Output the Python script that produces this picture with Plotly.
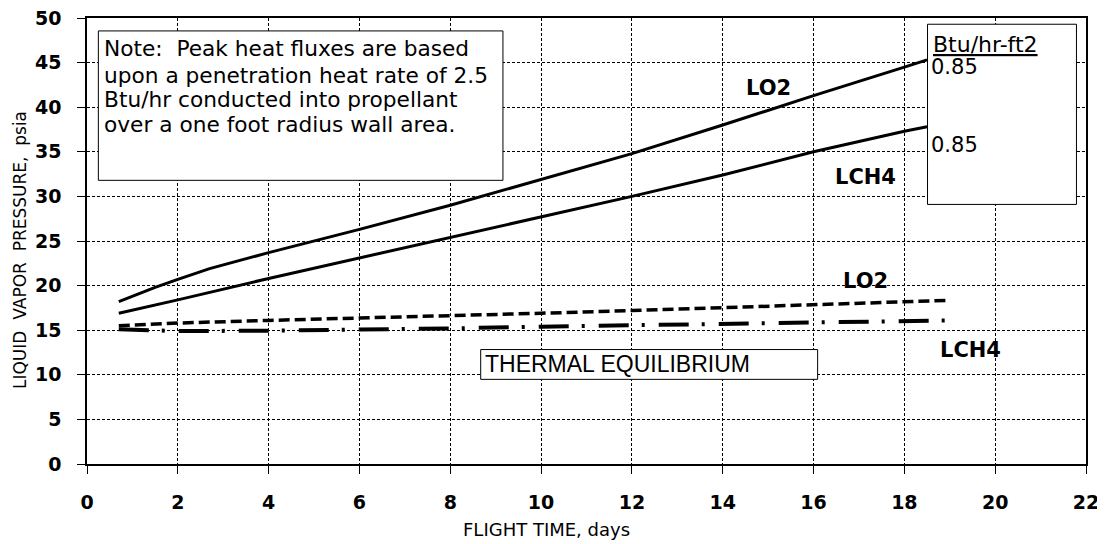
import plotly.graph_objects as go

# flight time (days) and liquid vapor pressure (psia)
lo2_heat_x = [0.7, 1.5, 2.0, 2.7, 4, 6, 8, 10, 12, 14, 16, 18, 18.5]
lo2_heat_y = [18.2, 19.8, 20.7, 21.9, 23.7, 26.3, 29.0, 31.9, 34.8, 38.0, 41.3, 44.5, 45.3]

lch4_heat_x = [0.7, 2, 4, 6, 8, 10, 12, 14, 16, 18, 18.5]
lch4_heat_y = [16.9, 18.4, 20.8, 23.1, 25.4, 27.7, 30.0, 32.4, 35.0, 37.3, 37.8]

lo2_eq_x = [0.7, 2, 4, 6, 8, 10, 12, 14, 16, 18, 19]
lo2_eq_y = [15.5, 15.8, 16.1, 16.35, 16.6, 16.9, 17.2, 17.55, 17.85, 18.2, 18.35]

lch4_eq_x = [0.7, 2, 4, 6, 8, 10, 12, 14, 16, 18, 19]
lch4_eq_y = [15.1, 14.9, 14.95, 15.05, 15.2, 15.4, 15.55, 15.7, 15.85, 16.0, 16.1]

note_lines = ["Note:\u00a0 Peak heat fluxes are based",
              "upon a penetration heat rate of 2.5",
              "Btu/hr conducted into propellant",
              "over a one foot radius wall area."]

FONT = "DejaVu Sans"
# the page body adds an 8px offset, so the figure is 8px smaller than the window
OFF = 8
L, R, T, B = 87, 19, 18, 80          # plot area edges in window pixels
PW, PH = 1105 - L - R, 544 - T - B

fig = go.Figure()
fig.add_trace(go.Scatter(x=lo2_heat_x, y=lo2_heat_y, mode="lines",
                         line=dict(color="black", width=3)))
fig.add_trace(go.Scatter(x=lch4_heat_x, y=lch4_heat_y, mode="lines",
                         line=dict(color="black", width=3)))
fig.add_trace(go.Scatter(x=lo2_eq_x, y=lo2_eq_y, mode="lines",
                         line=dict(color="black", width=3.5, dash="11px,5px")))
fig.add_trace(go.Scatter(x=lch4_eq_x, y=lch4_eq_y, mode="lines",
                         line=dict(color="black", width=4, dash="30px,13px,3px,14px")))

# boxes
box = dict(xref="x", yref="y", line=dict(color="black", width=1),
           fillcolor="white", layer="above")
fig.add_shape(type="rect", x0=0.25, x1=9.16, y0=31.8, y1=48.55, **box)
fig.add_shape(type="rect", x0=18.51, x1=21.79, y0=29.1, y1=49.3, **box)
fig.add_shape(type="rect", x0=8.67, x1=16.09, y0=9.49, y1=12.83, **box)

for txt, yy in zip(note_lines, [46.6, 43.6, 40.85, 38.05]):
    fig.add_annotation(x=0.34, y=yy, text=txt, showarrow=False, xanchor="left",
                       font=dict(family=FONT, size=21.7, color="black"))

fig.add_annotation(x=18.58, y=47.0, text="<u>Btu/hr-ft2</u>", showarrow=False,
                   xanchor="left", font=dict(family=FONT, size=22, color="black"))
fig.add_annotation(x=18.55, y=44.5, text="0.85", showarrow=False,
                   xanchor="left", font=dict(family=FONT, size=21, color="black"))
fig.add_annotation(x=18.55, y=35.8, text="0.85", showarrow=False,
                   xanchor="left", font=dict(family=FONT, size=21, color="black"))
fig.add_annotation(x=8.73, y=11.16, text="THERMAL EQUILIBRIUM", showarrow=False,
                   xanchor="left", font=dict(family="Liberation Sans", size=23, color="black"))

labels = [("LO2", 15.0, 42.1), ("LCH4", 17.14, 32.2), ("LO2", 17.15, 20.5), ("LCH4", 19.45, 12.8)]
for txt, xx, yy in labels:
    fig.add_annotation(x=xx, y=yy, text="<b>" + txt + "</b>", showarrow=False,
                       font=dict(family=FONT, size=21, color="black"))

# axis titles, placed by pixel position
fig.add_annotation(x=(546 - L) / PW, y=-(529 - (T + PH)) / PH, xref="paper", yref="paper",
                   text="FLIGHT TIME, days", showarrow=False, yanchor="middle",
                   font=dict(family=FONT, size=18, color="black"))
fig.add_annotation(x=(20 - L) / PW, y=(T + PH - 250) / PH, xref="paper", yref="paper",
                   text="LIQUID\u00a0 VAPOR\u00a0 PRESSURE,\u00a0 psia", textangle=-90,
                   showarrow=False, xanchor="center", yanchor="middle",
                   font=dict(family=FONT, size=17, color="black"))

axis_common = dict(showline=True, linecolor="black", linewidth=1.5, mirror=True,
                   ticks="outside", ticklen=8, tickcolor="black", tickwidth=1,
                   showgrid=True, gridcolor="black", gridwidth=1, griddash="3px,2px",
                   zeroline=False, automargin=False, ticklabeloverflow="allow",
                   tickfont=dict(family=FONT, size=19, color="black", weight="bold"))

fig.update_xaxes(range=[0, 22], dtick=2, tick0=0, ticklabelstandoff=12, **axis_common)
fig.update_yaxes(range=[0, 50], dtick=5, tick0=0, ticklabelstandoff=12, **axis_common)

fig.update_layout(width=1105 - OFF, height=544 - OFF, showlegend=False,
                  margin=dict(l=L - OFF, r=R, t=T - OFF, b=B),
                  paper_bgcolor="white", plot_bgcolor="white")

fig.write_html("out.html")
